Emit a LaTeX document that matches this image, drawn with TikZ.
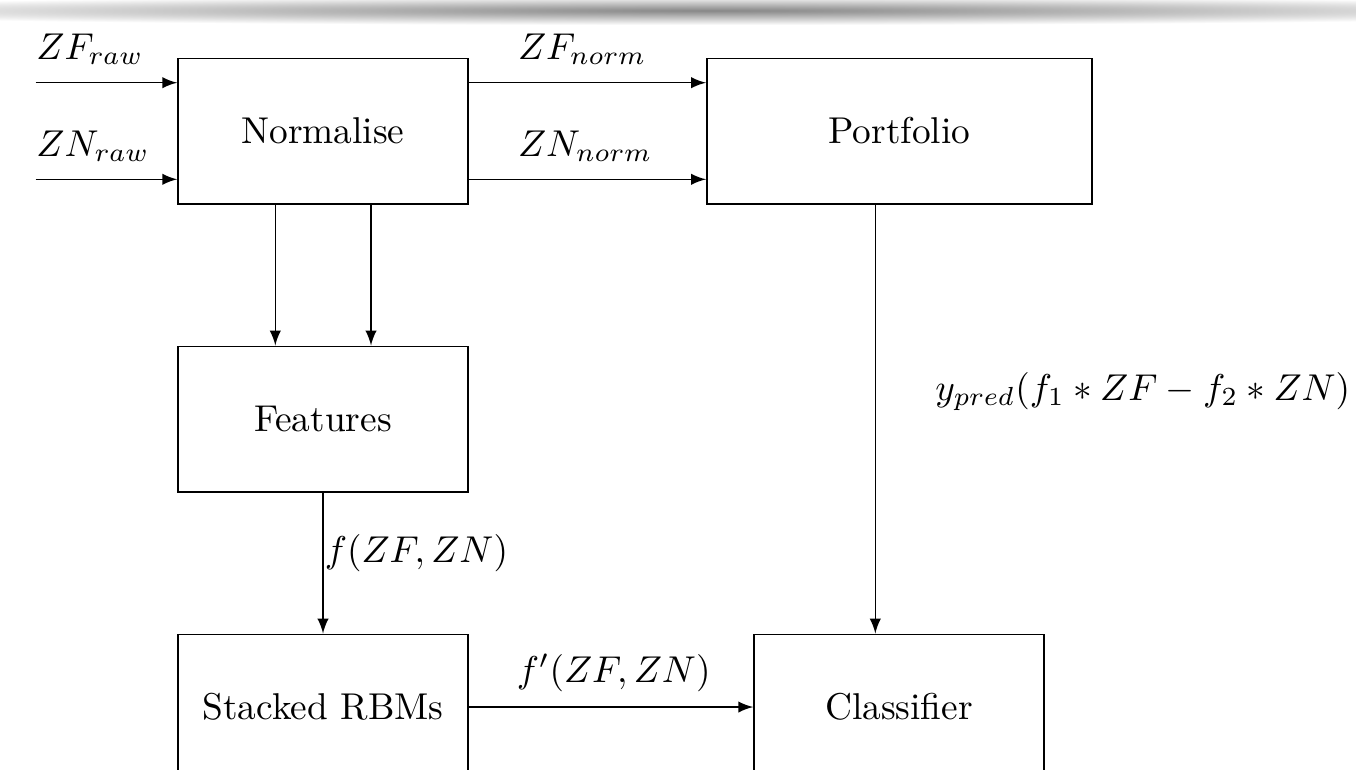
\documentclass[tikz,border=0pt]{standalone}
\pgfdeclareradialshading{barshade}{\pgfpoint{0bp}{0bp}}{color(0bp)=(black!47); color(25bp)=(white); color(50bp)=(white)}
\begin{document}
\begin{tikzpicture}[x=0.26784pt,y=-0.26784pt, >=latex,
  blk/.style={draw, line width=0.4pt, minimum width=290*0.26784pt, minimum height=145.5*0.26784pt, inner sep=0pt},
  lbl/.style={anchor=base west, inner sep=0pt},
  conn/.style={->, line width=0.4pt}]
\useasboundingbox (0,0) rectangle (1356,769);
\begin{scope}
  \clip (0,0) rectangle (1356,769);
  \shade[shading=barshade] (-280,-4) rectangle (1700,25);
\end{scope}
% blocks
\node[blk] (norm) at (323,131) {Normalise};
\node[blk, minimum width=385*0.26784pt] (port) at (899.3,131) {Portfolio};
\node[blk] (feat) at (323,419) {Features};
\node[blk] (rbm) at (323,707) {Stacked RBMs};
\node[blk] (cls) at (899,707) {Classifier};
% helper coordinates
\coordinate (inF) at (35.7,82.7);
\coordinate (inN) at (35.7,179.3);
\coordinate (xa) at (275.3,0);
\coordinate (xb) at (371,0);
\coordinate (xp) at (875.3,0);
% connectors
\draw[conn] (inF) -- (norm.west |- inF);
\draw[conn] (inN) -- (norm.west |- inN);
\draw[conn] (norm.east |- inF) -- (port.west |- inF);
\draw[conn] (norm.east |- inN) -- (port.west |- inN);
\draw[conn] (norm.south -| xa) -- (feat.north -| xa);
\draw[conn] (norm.south -| xb) -- (feat.north -| xb);
\draw[conn] (feat.south) -- (rbm.north);
\draw[conn] (rbm.east) -- (cls.west);
\draw[conn] (port.south -| xp) -- (cls.north -| xp);
% labels
\node[lbl] (lZFr) at (35.7,59.3) {$ZF_{raw}$};
\node[lbl] (lZNr) at (35.7,156) {$ZN_{raw}$};
\node[lbl] (lZFn) at (517.3,59.3) {$ZF_{norm}$};
\node[lbl] (lZNn) at (517.3,156) {$ZN_{norm}$};
\node[lbl] (lf) at (324,562.5) {$f(ZF,ZN)$};
\node[lbl] (lfp) at (516,682) {$f'(ZF,ZN)$};
\node[anchor=base east, inner sep=0pt] (ly) at (1351,400) {$y_{pred}(f_1*ZF-f_2*ZN)$};
\end{tikzpicture}
\end{document}
